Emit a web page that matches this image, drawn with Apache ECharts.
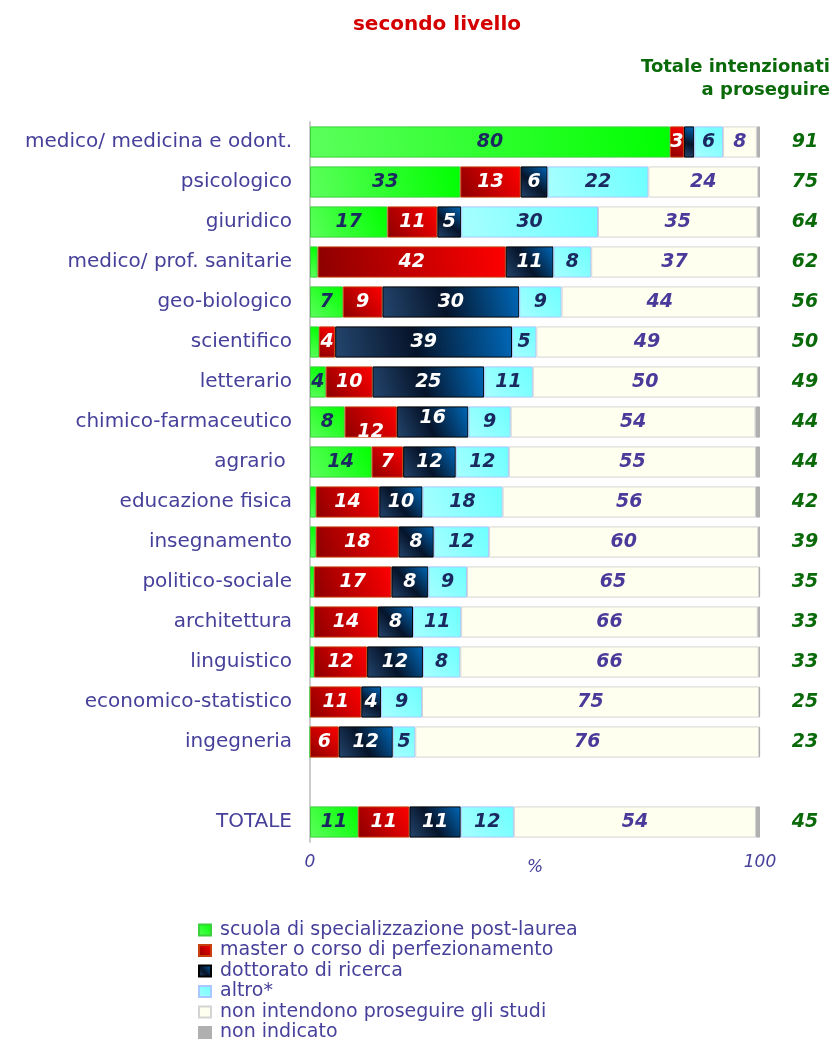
<!DOCTYPE html>
<html>
<head>
<meta charset="utf-8">
<script src="https://cdn.jsdelivr.net/npm/echarts@6/dist/echarts.min.js"></script>
<style>
html,body{margin:0;padding:0;background:#fff;}
#chart{width:835px;height:1039px;}
</style>
</head>
<body>
<div id="chart"></div>
<script>
var categorie = ['medico/ medicina e odont.','psicologico','giuridico','medico/ prof. sanitarie','geo-biologico','scientifico','letterario','chimico-farmaceutico','agrario ','educazione fisica','insegnamento','politico-sociale','architettura','linguistico','economico-statistico','ingegneria','','TOTALE'];
var scuola   = [80,33.4,17.2,1.7,7.3,2,3.5,7.7,13.7,1.3,1.3,0.9,0.9,0.9,0,0,null,10.7];
var master   = [3.1,13.4,11.1,41.8,8.8,3.6,10.4,11.6,7,14.1,18.4,17.2,14.2,11.8,11.4,6.4,null,11.4];
var dottorato= [2.3,6,5.3,10.6,30.4,39.3,24.8,15.9,11.7,9.6,7.8,8.2,7.8,12.4,4.4,12,null,11.4];
var altro    = [6.4,22.4,30.4,8.4,9.4,5.4,10.8,9.4,11.8,17.8,12.3,8.6,10.7,8.3,9.1,5,null,11.8];
var nonProseg= [7.5,24.4,35.4,37,43.6,49.2,50,54.4,54.9,56.3,59.8,64.9,65.9,66.3,74.9,76.4,null,53.8];
var nonIndic = [0.7,0.4,0.6,0.5,0.5,0.5,0.5,1,0.9,0.9,0.4,0.2,0.5,0.3,0.2,0.2,null,0.9];
var totali   = ['91','75','64','62','56','50','49','44','44','42','39','35','33','33','25','23','','45'];
var titoloTot= ['Totale intenzionati','a proseguire'];
var asseX    = ['0','100'];

var viola = '#46409a';
var navy = '#1a2a60';

function grad(c1,c2,c3){
	var stops = [{offset:0,color:c1}];
	if(c3){
		stops.push({offset:0.45,color:c2});
		stops.push({offset:1,color:c3});
	}else{
		stops.push({offset:1,color:c2});
	}
	return {type:'linear',x:0,y:1,x2:1,y2:0,colorStops:stops};
}

function fmt(p){
	return (p.value != null && p.value >= 3) ? Math.round(p.value) : '';
}

function serie(nome,dati,colore,bordo,colLab,mostra){
	return {
		name:nome,
		type:'bar',
		stack:'tot',
		barCategoryGap:'22%',
		data:dati,
		itemStyle:{color:colore,borderColor:bordo,borderWidth:1},
		label:{
			show:mostra,
			position:'inside',
			formatter:fmt,
			color:colLab,
			fontFamily:'DejaVu Sans',
			fontSize:19,
			fontWeight:'bold',
			fontStyle:'italic'
		}
	};
}

var series = [
	serie('scuola di specializzazione post-laurea',scuola,grad('#5cff5c','#00ff00'),'#3cd03c',navy,true),
	serie('master o corso di perfezionamento',master,grad('#8c0000','#ff0000'),'#c84010','#ffffff',true),
	serie('dottorato di ricerca',dottorato,grad('#24466e','#06142a','#0068b8'),'#000000','#ffffff',true),
	serie('altro*',altro,grad('#a8ffff','#6cffff'),'#a8c8ff',navy,true),
	serie('non intendono proseguire gli studi',nonProseg,'#fffff0','#d4d4d4','#4a3a9a',true),
	serie('non indicato',nonIndic,'#b0b0b0','#b0b0b0','#000',false)
];

// piccolo spostamento delle etichette sovrapposte (chimico-farmaceutico)
var idxChim = categorie.indexOf('chimico-farmaceutico');
series[1].data = master.map(function(v,i){
	return i==idxChim ? {value:v,label:{offset:[0,10]}} : v;
});
series[2].data = dottorato.map(function(v,i){
	return i==idxChim ? {value:v,label:{offset:[0,-4]}} : v;
});

var graf = titoloTot.map(function(t,i){
	return {
		type:'text',
		x:830,
		y:58+i*23,
		style:{
			text:t,
			align:'right',
			textAlign:'right',
			fill:'#0a6a0a',
			fontFamily:'DejaVu Sans',
			fontSize:18,
			fontWeight:'bold'
		}
	};
});

var myChart = echarts.init(document.getElementById('chart'));
var option = {
	animation:false,
	title:{
		text:'secondo livello',
		left:432,
		textAlign:'center',
		top:10,
		textStyle:{color:'#d40000',fontFamily:'DejaVu Sans',fontSize:20,fontWeight:'bold'}
	},
	graphic:graf,
	legend:{
		orient:'vertical',
		left:198,
		top:920,
		height:130,
		padding:0,
		itemWidth:12,
		itemHeight:11,
		itemGap:0.5,
		icon:'rect',
		textStyle:{color:viola,fontFamily:'DejaVu Sans',fontSize:19,lineHeight:20,padding:[0,0,0,4]},
		data:series.map(function(s){return s.name;})
	},
	grid:{left:310,right:75,top:122,height:720},
	xAxis:{
		type:'value',
		min:0,
		max:100,
		interval:100,
		name:'%',
		nameLocation:'middle',
		nameGap:17,
		nameMoveOverlap:false,
		nameTextStyle:{color:viola,fontFamily:'DejaVu Sans',fontSize:17,fontStyle:'italic'},
		splitLine:{show:false},
		axisLine:{show:false},
		axisTick:{show:false},
		axisLabel:{
			margin:12,
			color:viola,
			fontFamily:'DejaVu Sans',
			fontSize:17,
			fontStyle:'italic',
			formatter:function(v){return v==0?asseX[0]:(v==100?asseX[1]:'');}
		}
	},
	yAxis:[{
		type:'category',
		inverse:true,
		data:categorie,
		axisTick:{show:false},
		axisLine:{show:true,lineStyle:{color:'#cccccc',width:2}},
		axisLabel:{margin:18,color:viola,fontFamily:'DejaVu Sans',fontSize:20}
	},{
		type:'category',
		inverse:true,
		position:'right',
		data:totali,
		axisTick:{show:false},
		axisLine:{show:false},
		axisLabel:{margin:45,align:'center',color:'#0a6a0a',fontFamily:'DejaVu Sans',fontSize:19,fontWeight:'bold',fontStyle:'italic'}
	}],
	series:series
};
myChart.setOption(option);
</script>
</body>
</html>
